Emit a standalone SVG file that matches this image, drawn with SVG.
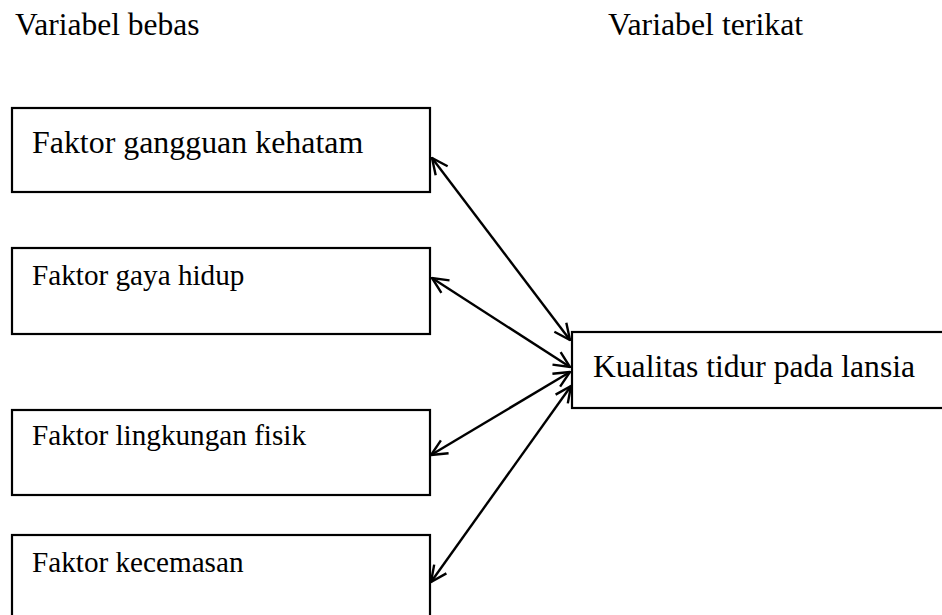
<svg xmlns="http://www.w3.org/2000/svg" width="942" height="615" viewBox="0 0 942 615">
<style>
.box{fill:#fff;stroke:#000;stroke-width:2.2}
.t{font-family:"Liberation Serif","Times New Roman",serif;fill:#000}
.c{stroke:#000;stroke-width:2.4;fill:none;marker-start:url(#ah);marker-end:url(#ah)}
</style>
<defs>
<marker id="ah" viewBox="0 0 18 18" refX="17" refY="9" markerWidth="18" markerHeight="18" markerUnits="userSpaceOnUse" orient="auto-start-reverse">
<path d="M1,1.5 L17,9 L1,16.5" fill="none" stroke="#000" stroke-width="2.4"/>
</marker>
</defs>
<rect width="942" height="615" fill="#fff"/>
<text class="t" x="15" y="35" font-size="31.5">Variabel bebas</text>
<text class="t" x="608" y="35" font-size="31.8">Variabel terikat</text>
<g id="n1"><rect class="box" x="12" y="108" width="418" height="84"/><text class="t" x="32" y="153" font-size="31.9">Faktor gangguan kehatam</text></g>
<g id="n2"><rect class="box" x="12" y="248" width="418" height="86"/><text class="t" x="32" y="285" font-size="29.2">Faktor gaya hidup</text></g>
<g id="n3"><rect class="box" x="12" y="410" width="418" height="85"/><text class="t" x="32" y="445" font-size="29.2">Faktor lingkungan fisik</text></g>
<g id="n4"><rect class="box" x="12" y="535" width="418" height="90"/><text class="t" x="32" y="572" font-size="29.2">Faktor kecemasan</text></g>
<g id="n5"><rect class="box" x="572" y="332" width="380" height="76"/><text class="t" x="593" y="377" font-size="31.6">Kualitas tidur pada lansia</text></g>
<g id="connectors">
<line class="c" x1="432" y1="158" x2="570" y2="340"/>
<line class="c" x1="432" y1="278" x2="570" y2="367"/>
<line class="c" x1="431" y1="455" x2="570" y2="372"/>
<line class="c" x1="431" y1="582" x2="571" y2="386"/>
</g>
</svg>
